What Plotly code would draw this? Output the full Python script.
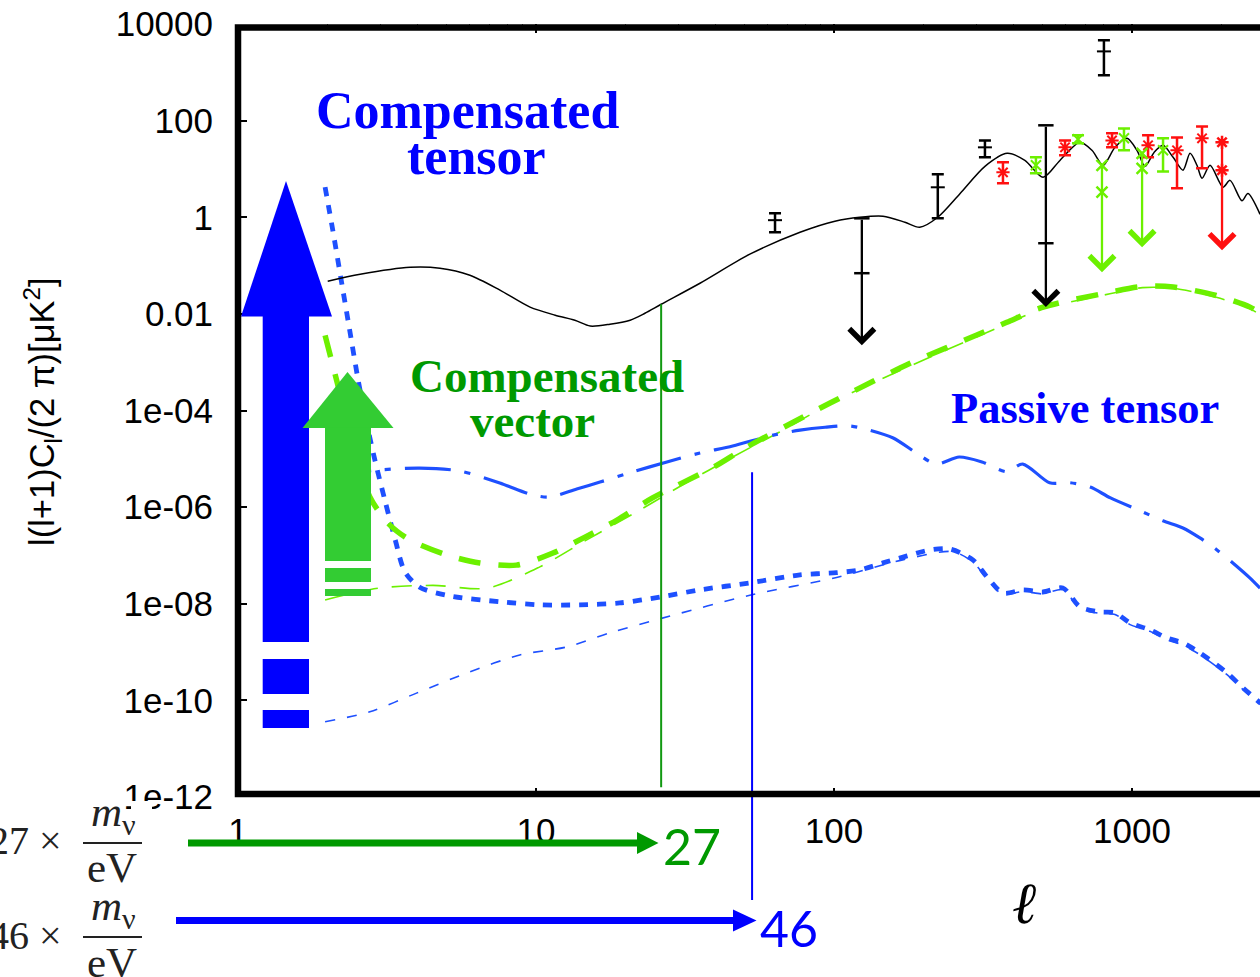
import numpy as np
import plotly.graph_objects as go

# ---------------- data ----------------
# black solid theory spectrum
l_cmb = [2.0, 2.57, 3.78, 4.76, 6.0, 7.57, 9.55, 11.6, 13.5, 15.2, 17.7, 20.7, 23.2, 26.3, 35.5, 52.2,
         76.9, 100.7, 122, 146, 173, 194, 223, 265, 321, 381, 437, 503, 573, 669, 735, 800, 877, 962,
         1040, 1106, 1186, 1271, 1374, 1483, 1566, 1652, 1718, 1828, 2020, 2133, 2339, 2449, 2690]
cl_cmb = [0.0475, 0.066, 0.092, 0.088, 0.063, 0.031, 0.0138, 0.0094, 0.0074, 0.0056, 0.0061, 0.0074,
          0.0103, 0.0158, 0.043, 0.172, 0.49, 0.83, 1.0, 1.05, 0.79, 0.62, 1.0, 3.1, 11.3, 21, 15, 6.7,
          15, 35.5, 24, 11.9, 28, 43, 24, 11.3, 22, 30.8, 17.4, 9.4, 21, 11.9, 6.4, 11.9, 4.2, 5.8, 2.2,
          3.1, 1.15]

# compensated tensor (thick blue dotted)
l_ct = [1.96, 2.08, 2.22, 2.37, 2.53, 2.69, 2.88, 3.11, 3.37, 3.63, 4.07, 5.14, 7.56, 10.3, 14.0, 19.1,
        26.1, 35.5, 52.2, 76.9, 102, 122, 146, 176, 210, 245, 293, 326, 369, 431, 502, 586, 669, 781,
        877, 985, 1148, 1310, 1482, 1690, 2084, 2339, 2690]
cl_ct = [4.2, 0.54, 0.05, 0.0046, 4.3e-4, 6.3e-5, 9.4e-6, 1.4e-6, 2.1e-7, 4.6e-8, 2.2e-8, 1.45e-8,
         1.1e-8, 9.5e-9, 9.5e-9, 1.04e-8, 1.38e-8, 1.94e-8, 2.7e-8, 3.96e-8, 4.4e-8, 5.0e-8, 7.0e-8,
         9.8e-8, 1.3e-7, 1.36e-7, 8.0e-8, 3.6e-8, 1.67e-8, 1.93e-8, 1.75e-8, 2.12e-8, 8.6e-9, 6.8e-9,
         6.5e-9, 4.0e-9, 2.9e-9, 1.96e-9, 1.55e-9, 9.6e-10, 3.7e-10, 1.9e-10, 8.9e-11]

# thin blue dashed
l_tb = [1.96, 2.77, 3.99, 6.0, 8.82, 12.7, 17.7, 26.1, 52.2, 102, 170, 250, 293, 326, 369, 431, 502,
        586, 669, 781, 877, 985, 1148, 1310, 1482, 1690, 2084, 2339, 2690]
cl_tb = [3.6e-11, 5.8e-11, 1.43e-10, 3.9e-10, 8.7e-10, 1.28e-9, 2.5e-9, 4.9e-9, 1.5e-8, 3.5e-8,
         8.1e-8, 1.2e-7, 7.2e-8, 3.3e-8, 1.55e-8, 1.8e-8, 1.6e-8, 1.95e-8, 8.0e-9, 6.3e-9, 6.0e-9,
         3.7e-9, 2.7e-9, 1.8e-9, 1.4e-9, 8.8e-10, 3.4e-10, 1.75e-10, 8.2e-11]

# passive tensor (blue dash-dot)
l_pt = [1.96, 2.93, 4.07, 5.55, 7.56, 9.76, 11.1, 13.7, 16.4, 21.1, 27.5, 35.5, 45.7, 62.6, 76.9,
        93.4, 113, 132, 158, 189, 220, 263, 314, 380, 430, 529, 619, 724, 847, 1090, 1270, 1482,
        1690, 1928, 2180, 2490, 2690]
cl_pt = [4.6e-6, 5.85e-6, 6.4e-6, 5.6e-6, 3.16e-6, 1.78e-6, 1.62e-6, 2.37e-6, 3.3e-6, 5.35e-6,
         8.6e-6, 1.32e-5, 1.84e-5, 3.1e-5, 3.93e-5, 4.5e-5, 4.8e-5, 3.9e-5, 2.7e-5, 1.32e-5, 7.8e-6,
         1.09e-5, 8.6e-6, 5.4e-6, 7.8e-6, 3.2e-6, 3.2e-6, 2.6e-6, 1.55e-6, 7.9e-7, 5.2e-7, 3.7e-7,
         2.3e-7, 1.3e-7, 7.0e-8, 3.4e-8, 2.1e-8]

# compensated vector (thick green dashed)
l_cv = [1.96, 2.15, 2.37, 2.77, 3.23, 3.77, 5.02, 6.48, 8.6, 11.4, 14.6, 18.7, 24.6, 39.4, 51.0,
        84.8, 113, 180, 239, 300, 380, 503, 843, 1085, 1375, 1918, 2490, 2690]
cl_cv = [3.6e-3, 3.9e-4, 3.9e-5, 1.62e-6, 4.3e-7, 2.1e-7, 1.02e-7, 7.0e-8, 6.3e-8, 1.12e-7, 2.4e-7,
         5.4e-7, 1.55e-6, 6.7e-6, 1.75e-5, 9.3e-5, 2.3e-4, 9.5e-4, 2.0e-3, 3.6e-3, 6.7e-3, 0.0138,
         0.028, 0.037, 0.036, 0.024, 0.0138, 0.0103]

# thin green dashed
l_tg = [1.96, 2.95, 4.51, 6.85, 10.3, 14.8, 22.3, 31.1, 45.7, 65.7, 102, 142, 239, 380, 503, 843,
        1085, 1375, 1918, 2490, 2690]
cl_tg = [1.2e-8, 2.1e-8, 2.4e-8, 2.1e-8, 5.8e-8, 2.1e-7, 8.7e-7, 2.9e-6, 1.09e-5, 3.6e-5, 1.64e-4,
         4.3e-4, 1.8e-3, 6.2e-3, 0.0128, 0.026, 0.035, 0.034, 0.022, 0.0128, 0.0095]

# measurements (value, upper, lower)
black_l = [63.4, 223, 321, 805]
black_v = [0.87, 4.17, 28, 2710]
black_hi = [1.21, 7.75, 39, 4600]
black_lo = [0.49, 0.95, 17.4, 865]
black_ul_l = [124, 514]
black_ul_top = [0.95, 80]
black_ul_mid = [0.0695, 0.29]
black_ul_tip = [0.00225, 0.0138]

red_l = [369, 596, 857, 1132, 1416, 1718]
red_v = [8.5, 28, 39, 30.9, 24.3, 43]
red_hi = [13.7, 39, 54.6, 49.7, 45, 76]
red_lo = [5.05, 19.1, 28, 17.4, 3.98, 10.3]
red_ul_l = [2005]
red_ul_top = [35.6]
red_ul_mid = [9.4]
red_ul_tip = [0.207]

green_l = [476, 659, 940, 1271]
green_v = [11.9, 41, 43, 24.3]
green_hi = [17.4, 49.7, 69, 43]
green_lo = [8.1, 34, 24.3, 8.9]
green_ul_l = [793, 1081]
green_ul_top = [11.9, 21]
green_ul_mid = [3.3, 10.3]
green_ul_tip = [0.073, 0.24]

# vertical markers (l, top value, bottom value)
vline_vector = [26.3, 0.0158, 1.6e-12]
vline_tensor = [53.1, 5.3e-6]

ytick_vals = [1e4, 1e2, 1, 1e-2, 1e-4, 1e-6, 1e-8, 1e-10, 1e-12]
ytick_text = ["10000", "100", "1", "0.01", "1e-04", "1e-06", "1e-08", "1e-10", "1e-12"]
xtick_vals = [1, 10, 100, 1000]
xtick_text = ["1", "10", "100", "1000"]
xminor_vals = [m * d for d in (1, 10, 100, 1000) for m in range(2, 10)]

# ---------------- geometry ----------------
W, H = 1260, 977
ML, MT, MB, MR = 238, 24, 180, 0
PW = W - ML - MR
PH = H - MT - MB
X_RANGE = [0.0, PW / 298.0]
Y_RANGE = [-12.0, 4.0]
BOT = H - MB


def px(xp):
    return (xp - ML) / PW


def py(yp):
    return (BOT - yp) / PH


def fx(l):
    return (np.log10(l) - X_RANGE[0]) / (X_RANGE[1] - X_RANGE[0])


def fy(v):
    return (np.log10(v) - Y_RANGE[0]) / (Y_RANGE[1] - Y_RANGE[0])


BLUE_C = "#1E50FF"
GREEN_C = "#6CF000"
RED_C = "#FF1010"

fig = go.Figure()


def curve(x, y, color, width, dash):
    fig.add_trace(go.Scatter(x=x, y=y, mode="lines",
                             line=dict(color=color, width=width, dash=dash, shape="spline", smoothing=0.8),
                             hoverinfo="skip"))


curve(l_tb, cl_tb, BLUE_C, 1.6, "10px,12px")
curve(l_tg, cl_tg, GREEN_C, 1.6, "20px,14px")
curve(l_ct, cl_ct, BLUE_C, 4.8, "9px,9px")
curve(l_pt, cl_pt, BLUE_C, 3.2, "46px,14px,6px,14px")
curve(l_cv, cl_cv, GREEN_C, 5.5, "22px,18px")
curve(l_cmb, cl_cmb, "black", 1.5, "solid")


def points(l, v, hi, lo, color, symbol, msize):
    fig.add_trace(go.Scatter(
        x=l, y=v, mode="markers",
        marker=dict(symbol=symbol, size=msize, color=color, line=dict(color=color, width=2)),
        error_y=dict(type="data", symmetric=False,
                     array=[h - c for h, c in zip(hi, v)],
                     arrayminus=[c - q for c, q in zip(v, lo)],
                     color=color, thickness=2.5, width=6),
        hoverinfo="skip"))


points(black_l, black_v, black_hi, black_lo, "black", "line-ew", 10)
points(red_l, red_v, red_hi, red_lo, RED_C, "asterisk-open", 11)
points(green_l, green_v, green_hi, green_lo, GREEN_C, "x-thin-open", 10)

annotations = []


def upper_limits(l, top, mid, tip, color, symbol):
    fig.add_trace(go.Scatter(x=list(l) + list(l), y=list(top) + list(mid), mode="markers",
                             marker=dict(symbol=symbol, size=11, color=color,
                                         line=dict(color=color, width=2.5)),
                             hoverinfo="skip"))
    for a, t, b in zip(l, top, tip):
        annotations.append(dict(x=np.log10(a), y=np.log10(b), ax=np.log10(a), ay=np.log10(t),
                                xref="x", yref="y", axref="x", ayref="y", text="",
                                showarrow=True, arrowhead=4, arrowsize=2.1, arrowwidth=2.3,
                                arrowcolor=color, standoff=0, startstandoff=0))


upper_limits(black_ul_l, black_ul_top, black_ul_mid, black_ul_tip, "black", "line-ew")
upper_limits(red_ul_l, red_ul_top, red_ul_mid, red_ul_tip, RED_C, "asterisk-open")
upper_limits(green_ul_l, green_ul_top, green_ul_mid, green_ul_tip, GREEN_C, "x-thin-open")

shapes = []
# vertical marker lines
shapes.append(dict(type="line", xref="paper", yref="paper",
                   x0=fx(vline_vector[0]), x1=fx(vline_vector[0]),
                   y0=fy(vline_vector[1]), y1=fy(vline_vector[2]),
                   line=dict(color="#119911", width=2)))
shapes.append(dict(type="line", xref="paper", yref="paper",
                   x0=fx(vline_tensor[0]), x1=fx(vline_tensor[0]),
                   y0=fy(vline_tensor[1]), y1=py(900),
                   line=dict(color="#0000FF", width=2)))


def rect(x0, y0, x1, y1, color):
    shapes.append(dict(type="rect", xref="paper", yref="paper", x0=px(x0), x1=px(x1),
                       y0=py(y1), y1=py(y0), fillcolor=color, line=dict(width=0)))


def tri(pts, color):
    d = "M " + " L ".join(f"{px(a):.5f},{py(b):.5f}" for a, b in pts) + " Z"
    shapes.append(dict(type="path", xref="paper", yref="paper", path=d, fillcolor=color,
                       line=dict(width=0)))


# big blue arrow
BA = "#0000FF"
tri([(286, 181), (241, 316.5), (332, 316.5)], BA)
rect(262.7, 316, 309, 642, BA)
rect(262.7, 659, 309, 694, BA)
rect(262.7, 710, 309, 728, BA)
# big green arrow
GA = "#33CC33"
tri([(347.5, 372), (302.5, 428), (393.5, 428)], GA)
rect(325, 427.5, 371, 561, GA)
rect(325, 568, 371, 582, GA)
rect(325, 589, 371, 596, GA)

# frame
shapes.append(dict(type="path", xref="paper", yref="paper",
                   path=f"M 1.01,{py(27.5):.5f} L {px(238):.5f},{py(27.5):.5f} L {px(238):.5f},{py(794):.5f} L 1.01,{py(794):.5f}",
                   line=dict(color="black", width=6.5)))

# white patch from the formula image
rect(131, 801, 152, 813, "white")

# bottom arrows
DG = "#009900"
shapes.append(dict(type="line", xref="paper", yref="paper", x0=px(188), x1=px(640),
                   y0=py(843), y1=py(843), line=dict(color=DG, width=7)))
tri([(637, 832), (658.5, 843), (637, 854)], DG)
shapes.append(dict(type="line", xref="paper", yref="paper", x0=px(176), x1=px(736),
                   y0=py(920.5), y1=py(920.5), line=dict(color="#0000FF", width=7)))
tri([(733, 909.5), (756.5, 920.5), (733, 931.5)], "#0000FF")

# fraction bars
for yb in (843, 937):
    shapes.append(dict(type="line", xref="paper", yref="paper", x0=px(83), x1=px(142),
                       y0=py(yb), y1=py(yb), line=dict(color="#222222", width=2)))


def label(text, xc, yc, size, color, family, weight="normal", xanchor="center", **kw):
    annotations.append(dict(text=text, x=px(xc), y=py(yc), xref="paper", yref="paper",
                            xanchor=xanchor, yanchor="middle", showarrow=False,
                            font=dict(size=size, color=color, family=family, weight=weight), **kw))


SERIF = "Liberation Serif"
label("Compensated", 467, 110, 52, "#0000FF", SERIF, "bold")
label("tensor", 476.5, 157, 52, "#0000FF", SERIF, "bold")
label("Compensated", 547, 376, 47, "#009900", SERIF, "bold")
label("vector", 532, 421, 47, "#009900", SERIF, "bold")
label("Passive tensor", 1085, 408, 44.5, "#0000FF", SERIF, "bold")

label("l(l+1)C<sub>l</sub>/(2 π)[μK<sup>2</sup>]", 42, 412, 34.5, "black", "Liberation Sans",
      textangle=-90)
label("<b><i>ℓ</i></b>", 1025, 903, 58, "black", "DejaVu Serif", "bold")

label("27 ×", 64, 840, 40, "#222222", SERIF, xanchor="right")
label("<i>m</i><sub>ν</sub>", 113, 815, 43, "#222222", SERIF)
label("eV", 111.5, 868, 43, "#222222", SERIF)
label("46 ×", 64, 935, 40, "#222222", SERIF, xanchor="right")
label("<i>m</i><sub>ν</sub>", 113, 909, 43, "#222222", SERIF)
label("eV", 111.5, 962, 43, "#222222", SERIF)

label("27", 692, 846, 50, "#009900", "Lato")
label("46", 789, 928, 50, "#0000FF", "Lato")

fig.update_layout(
    width=W, height=H,
    margin=dict(l=ML, r=MR, t=MT, b=MB, pad=0),
    paper_bgcolor="white", plot_bgcolor="white",
    showlegend=False,
    shapes=shapes, annotations=annotations,
    xaxis=dict(type="log", range=X_RANGE, showgrid=False, zeroline=False, showline=False,
               tickvals=xtick_vals, ticktext=xtick_text, ticks="inside", ticklen=9, tickwidth=1.5,
               tickcolor="black", mirror="ticks", ticklabelstandoff=10,
               tickfont=dict(family="Liberation Sans", size=35, color="black"),
               minor=dict(tickvals=xminor_vals, ticks="inside", ticklen=5, tickwidth=1,
                          tickcolor="#444444", showgrid=False)),
    yaxis=dict(type="log", range=Y_RANGE, showgrid=False, zeroline=False, showline=False,
               tickvals=ytick_vals, ticktext=ytick_text, ticks="inside", ticklen=9, tickwidth=1.5,
               tickcolor="black", ticklabelstandoff=24,
               tickfont=dict(family="Liberation Sans", size=35, color="black")),
)

fig.write_html("out.html", config={"displayModeBar": False},
               post_script="document.body.style.margin='0px';")
